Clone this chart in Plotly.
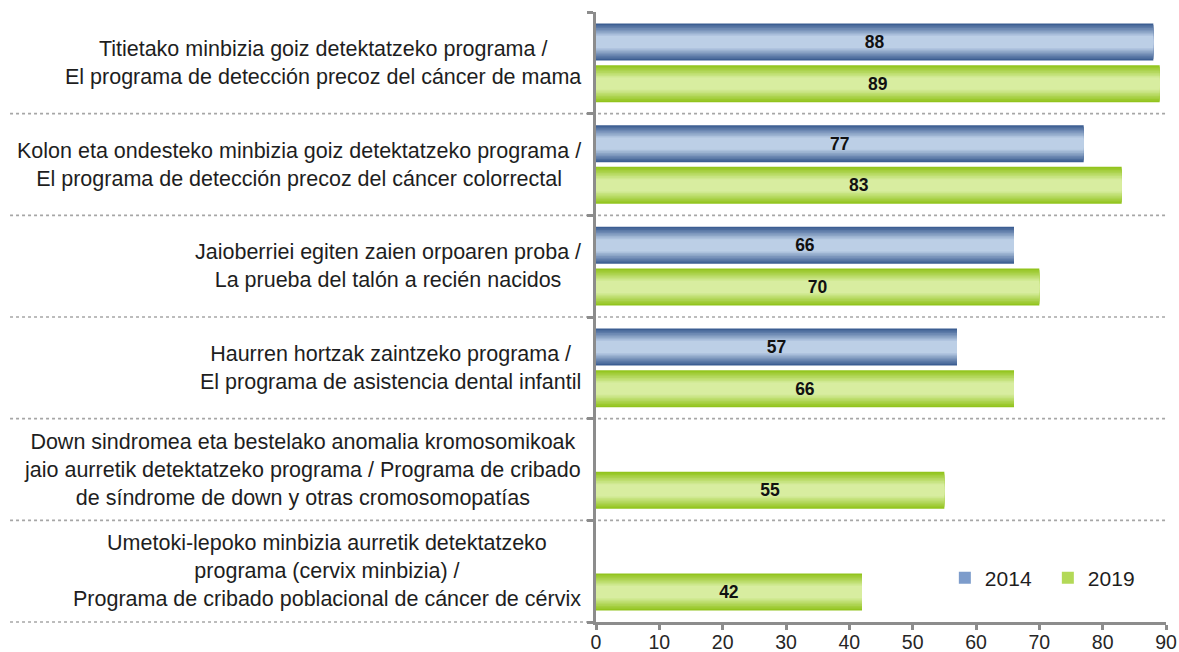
import plotly.graph_objects as go

# Screening programmes (Basque / Spanish labels)
programs = [
    "Titietako minbizia goiz detektatzeko programa /<br>El programa de detección precoz del cáncer de mama",
    "Kolon eta ondesteko minbizia goiz detektatzeko programa /<br>El programa de detección precoz del cáncer colorrectal",
    "Jaioberriei egiten zaien orpoaren proba /<br>La prueba del talón a recién nacidos",
    "Haurren hortzak zaintzeko programa /<br>El programa de asistencia dental infantil",
    "Down sindromea eta bestelako anomalia kromosomikoak<br>jaio aurretik detektatzeko programa / Programa de cribado<br>de síndrome de down y otras cromosomopatías",
    "Umetoki-lepoko minbizia aurretik detektatzeko<br>programa (cervix minbizia) /<br>Programa de cribado poblacional de cáncer de cérvix",
]
values_2014 = [88, 77, 66, 57, None, None]
values_2019 = [89, 83, 70, 66, 55, 42]
x_ticks = [0, 10, 20, 30, 40, 50, 60, 70, 80, 90]

FONT = "Liberation Sans, Arial, sans-serif"
BAR_H = 0.364       # bar thickness in category units
CENTER = 0.205      # distance of each series' bar centre from the category centre
N_LAYERS = 12       # shading layers used to build the vertical gradient


def lerp(c1, c2, t):
    return "rgb({},{},{})".format(*[round(a + (b - a) * t) for a, b in zip(c1, c2)])


series = [
    ("2014", values_2014, -CENTER, (60, 94, 146), (188, 207, 230), "#7d9ccb"),
    ("2019", values_2019, CENTER, (146, 196, 30), (216, 237, 160), "#b3d957"),
]

fig = go.Figure()
idx = list(range(len(programs)))

for name, vals, shift, edge, light, legend_col in series:
    for k in range(N_LAYERS):
        frac = 1 - k / N_LAYERS
        w = BAR_H * frac
        t = min(1.0, 1.5 * k / N_LAYERS)
        fig.add_trace(go.Bar(
            x=vals, y=idx, orientation="h",
            width=w, offset=shift - w / 2,
            marker=dict(color=lerp(edge, light, t), line=dict(width=0)),
            name=name, legendgroup=name, showlegend=False,
            hoverinfo="skip",
        ))

# legend entries
for name, vals, shift, edge, light, legend_col in series:
    fig.add_trace(go.Bar(
        x=[None], y=[0], orientation="h", name=name, legendgroup=name,
        marker=dict(color=legend_col, line=dict(width=0)), showlegend=True,
    ))

# value labels centred in each bar
for name, vals, shift, edge, light, legend_col in series:
    fig.add_trace(go.Bar(
        x=vals, y=idx, orientation="h",
        width=BAR_H, offset=shift - BAR_H / 2,
        marker=dict(color="rgba(0,0,0,0)", line=dict(width=0)),
        texttemplate="<b>%{x}</b>", textposition="inside",
        insidetextanchor="middle",
        textfont=dict(family=FONT, size=17.5, color="#111111"),
        showlegend=False, hoverinfo="skip",
    ))

# category labels, lines centred within each block
for i, label in enumerate(programs):
    fig.add_annotation(
        x=0, xref="paper", y=i, yref="y", xanchor="right", xshift=-13,
        text=label, showarrow=False, align="center",
        font=dict(family=FONT, size=21.5, color="#1e1e1e"),
    )

# dotted separators between programmes
n = len(programs)
for k in range(1, n + 1):
    fig.add_shape(
        type="line", xref="paper", yref="paper",
        x0=-1.028, x1=1.0 if k < n else 0.0,
        y0=1 - k / n, y1=1 - k / n,
        line=dict(color="#a6a6a6", width=1.6, dash="dot"),
        layer="below",
    )

fig.update_layout(
    width=1179, height=652,
    margin=dict(l=596, r=13, t=12, b=30, autoexpand=False),
    paper_bgcolor="white", plot_bgcolor="white",
    barmode="overlay",
    font=dict(family=FONT),
    legend=dict(
        orientation="h", x=0.612, xanchor="left", y=0.072, yanchor="middle",
        font=dict(family=FONT, size=21, color="#1e1e1e"),
        bgcolor="rgba(0,0,0,0)", itemwidth=30, traceorder="normal",
        entrywidth=58,
    ),
    xaxis=dict(
        range=[0, 90], tickvals=x_ticks, showgrid=False, zeroline=False,
        showline=True, linecolor="#8c8c8c", linewidth=2.5, automargin=False,
        ticks="outside", ticklen=5, tickwidth=2.5, tickcolor="#8c8c8c",
        ticklabelstandoff=-4,
        tickfont=dict(family=FONT, size=19.5, color="#262626"),
    ),
    yaxis=dict(
        type="linear", range=[n - 0.5, -0.5], showgrid=False, zeroline=False,
        showline=True, linecolor="#8c8c8c", linewidth=2.5, automargin=False,
        tickvals=[k - 0.5 for k in range(n + 1)], showticklabels=False,
        ticks="outside", ticklen=6, tickwidth=2.5, tickcolor="#8c8c8c",
    ),
)

fig.write_html("out.html")
